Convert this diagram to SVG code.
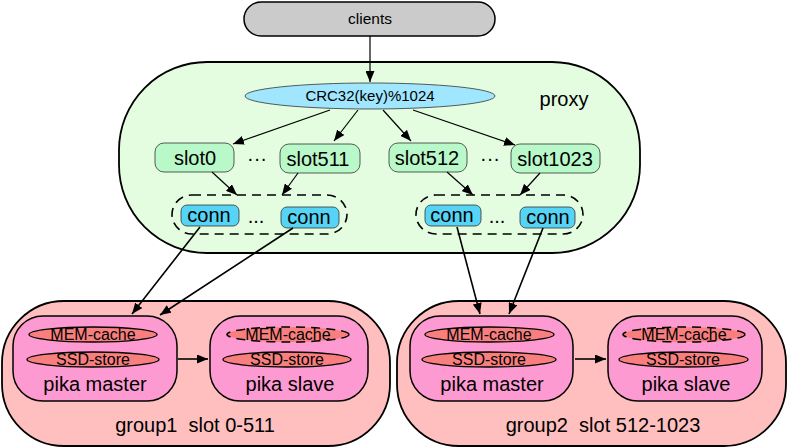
<svg xmlns="http://www.w3.org/2000/svg" width="788" height="448" viewBox="0 0 788 448">
<defs>
<marker id="ah" markerUnits="userSpaceOnUse" markerWidth="11" markerHeight="9" viewBox="0 0 11 9" refX="11" refY="4.5" orient="auto">
<path d="M0,0 L11,4.5 L0,9 z" fill="#000"/>
</marker>
</defs>
<style>
text{font-family:"Liberation Sans",Arial,sans-serif;fill:#000;text-anchor:middle}
.l{stroke:#000;stroke-width:1.2;fill:none;marker-end:url(#ah)}
.slot{fill:#b9f8c8;stroke:#333;stroke-width:0.8}
.conn{fill:#55d4f6;stroke:#333;stroke-width:0.8}
.grp{fill:none;stroke:#000;stroke-width:1.6;stroke-dasharray:9,6}
.group{fill:#ffbfbf;stroke:#000;stroke-width:1.8}
.pika{fill:#fe9ad2;stroke:#000;stroke-width:1.5}
.st{fill:#f97f7f;stroke:#000;stroke-width:1.3}
.std{fill:#f97f7f;stroke:#000;stroke-width:1.5;stroke-dasharray:9,6}
.s16{font-size:16px}
.s20{font-size:20px}
</style>
<g id="clients">
<rect x="244" y="2" width="251" height="34" rx="17" fill="#cbcbcb" stroke="#000" stroke-width="1.5"/>
<text x="370" y="24" style="font-size:15.5px">clients</text>
</g>
<g id="proxy">
<rect x="119" y="62" width="521" height="191" rx="88" fill="#e4fde0" stroke="#000" stroke-width="1.8"/>
<text x="564" y="106" class="s20">proxy</text>
</g>
<g id="crc">
<ellipse cx="370" cy="96" rx="125" ry="13" fill="#9fe6fe" stroke="#333" stroke-width="0.8"/>
<text x="370" y="101" style="font-size:15px">CRC32(key)%1024</text>
</g>
<g id="slot0"><rect x="155" y="143" width="79" height="29" rx="9" class="slot"/><text x="195" y="165" class="s20">slot0</text></g>
<g id="slot511"><rect x="280" y="144" width="80" height="29" rx="9" class="slot"/><text x="318" y="166" class="s20">slot511</text></g>
<g id="slot512"><rect x="389" y="143" width="78" height="29" rx="9" class="slot"/><text x="427" y="165" class="s20">slot512</text></g>
<g id="slot1023"><rect x="511" y="144" width="89" height="29" rx="9" class="slot"/><text x="555" y="166" class="s20">slot1023</text></g>
<g id="dots"><text x="257" y="165" class="s20">···</text><text x="490" y="165" class="s20">···</text></g>
<g id="connpool1">
<rect x="172" y="195" width="175" height="39" rx="20" class="grp"/>
<rect x="181" y="205" width="58" height="21" rx="6" class="conn"/><text x="209" y="222" class="s20">conn</text>
<text x="256" y="223" class="s20">...</text>
<rect x="281" y="207" width="58" height="21" rx="6" class="conn"/><text x="309" y="224" class="s20">conn</text>
</g>
<g id="connpool2">
<rect x="416" y="195" width="167" height="39" rx="20" class="grp"/>
<rect x="425" y="205" width="56" height="21" rx="6" class="conn"/><text x="452" y="222" class="s20">conn</text>
<text x="497" y="223" class="s20">...</text>
<rect x="520" y="207" width="55" height="21" rx="6" class="conn"/><text x="548" y="224" class="s20">conn</text>
</g>
<g id="group1">
<rect x="2" y="301" width="388" height="145" rx="62" class="group"/>
<text x="195" y="432" class="s20" xml:space="preserve">group1  slot 0-511</text>
<g id="g1master">
<rect x="13" y="316" width="164" height="85" rx="30" class="pika"/>
<ellipse cx="93" cy="334.5" rx="64" ry="7.5" class="st"/><text x="93" y="340" class="s16">MEM-cache</text>
<ellipse cx="93" cy="359.5" rx="66" ry="7.5" class="st"/><text x="93" y="365" class="s16">SSD-store</text>
<text x="95" y="391" class="s20">pika master</text>
</g>
<g id="g1slave">
<rect x="210" y="316" width="158" height="85" rx="30" class="pika"/>
<ellipse cx="288" cy="334.5" rx="61" ry="7.5" class="std"/><text x="288" y="340" class="s16">MEM-cache</text>
<ellipse cx="287" cy="359.5" rx="64" ry="7.5" class="st"/><text x="287" y="365" class="s16">SSD-store</text>
<text x="290" y="391" class="s20">pika slave</text>
</g>
</g>
<g id="group2">
<rect x="397" y="301" width="389" height="145" rx="62" class="group"/>
<text x="603" y="432" class="s20" xml:space="preserve">group2  slot 512-1023</text>
<g id="g2master">
<rect x="410" y="316" width="163" height="85" rx="30" class="pika"/>
<ellipse cx="489.5" cy="334.5" rx="64.5" ry="7.5" class="st"/><text x="489" y="340" class="s16">MEM-cache</text>
<ellipse cx="489" cy="359.5" rx="67" ry="7.5" class="st"/><text x="489" y="365" class="s16">SSD-store</text>
<text x="492" y="391" class="s20">pika master</text>
</g>
<g id="g2slave">
<rect x="608" y="316" width="154" height="85" rx="30" class="pika"/>
<ellipse cx="684" cy="334.5" rx="61" ry="7.5" class="std"/><text x="684" y="340" class="s16">MEM-cache</text>
<ellipse cx="683.5" cy="359.5" rx="64.5" ry="7.5" class="st"/><text x="683" y="365" class="s16">SSD-store</text>
<text x="686" y="391" class="s20">pika slave</text>
</g>
</g>
<g id="connectors">
<line x1="370" y1="36" x2="370" y2="82" class="l"/>
<line x1="330" y1="110" x2="233" y2="144" class="l"/>
<line x1="358" y1="110" x2="334" y2="141" class="l"/>
<line x1="383" y1="110" x2="411" y2="141" class="l"/>
<line x1="413" y1="110" x2="515" y2="145" class="l"/>
<line x1="212" y1="172" x2="237" y2="195" class="l"/>
<line x1="298" y1="173" x2="282" y2="195" class="l"/>
<line x1="447" y1="172" x2="473" y2="195" class="l"/>
<line x1="540" y1="173" x2="520" y2="195" class="l"/>
<line x1="200" y1="227" x2="132" y2="314" class="l" style="stroke-width:1.6"/>
<line x1="293" y1="228" x2="160" y2="315" class="l" style="stroke-width:1.6"/>
<line x1="457" y1="227" x2="480" y2="314" class="l" style="stroke-width:1.6"/>
<line x1="543" y1="228" x2="509" y2="314" class="l" style="stroke-width:1.6"/>
<line x1="178" y1="359" x2="208" y2="359" class="l" style="stroke-width:1.6"/>
<line x1="575" y1="359" x2="606" y2="359" class="l" style="stroke-width:1.6"/>
</g>
</svg>
